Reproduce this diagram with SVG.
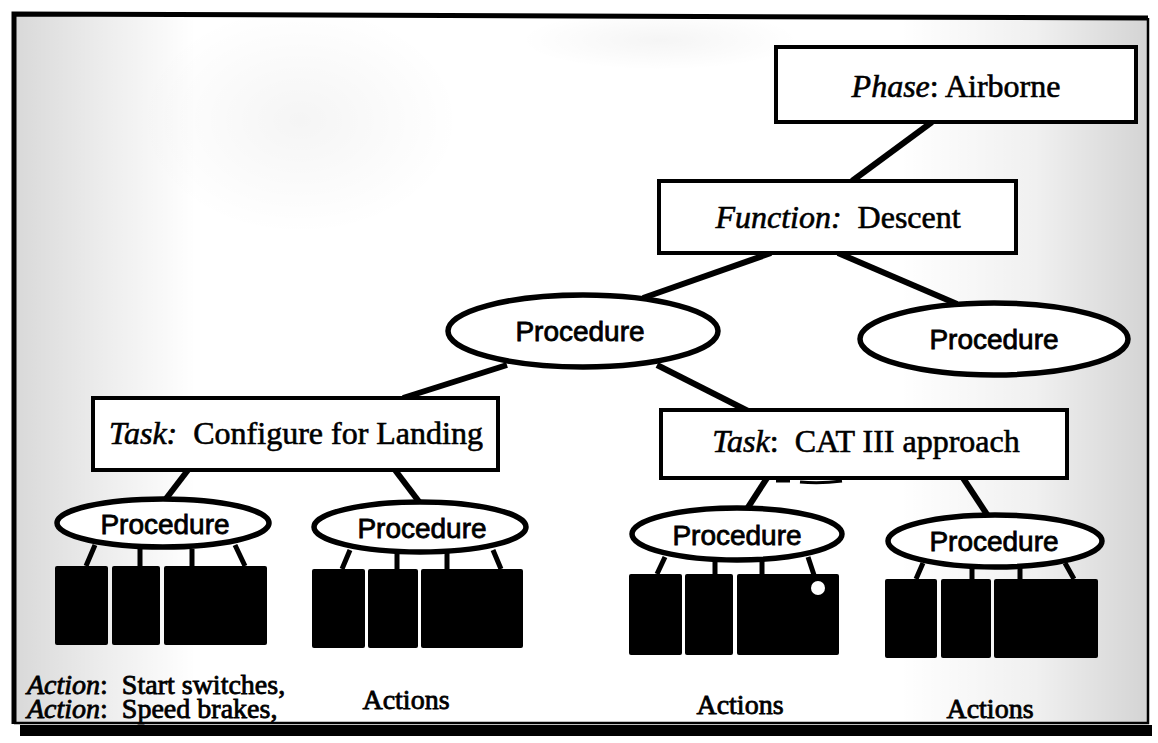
<svg xmlns="http://www.w3.org/2000/svg" width="1158" height="743" viewBox="0 0 1158 743">
  <defs>
    <style>
      .box { fill: #fff; stroke: #000; stroke-width: 4; }
      .oval { fill: #fff; stroke: #000; stroke-width: 5.5; }
      .edge { stroke: #000; stroke-width: 6; stroke-linecap: butt; fill: none; }
      .stub { stroke: #000; stroke-width: 5; stroke-linecap: butt; fill: none; }
      .act { fill: #000; }
      .serif { font-family: "Liberation Serif", "Times New Roman", serif; font-size: 32px; fill: #000; stroke: #000; stroke-width: 0.6; }
      .small { font-size: 28px; stroke-width: 0.8; }
      .sans { font-family: "Liberation Sans", Arial, sans-serif; font-size: 28px; fill: #000; stroke: #000; stroke-width: 0.8; text-anchor: middle; }
      .it { font-style: italic; }
    </style>
    <!-- light grey halftone tint at the edges of the sheet -->
    <linearGradient id="tintL" x1="0" y1="0" x2="1" y2="0">
      <stop offset="0" stop-color="#000" stop-opacity="0.15"/>
      <stop offset="0.5" stop-color="#000" stop-opacity="0.07"/>
      <stop offset="1" stop-color="#000" stop-opacity="0"/>
    </linearGradient>
    <linearGradient id="tintR" x1="0" y1="0" x2="1" y2="0">
      <stop offset="0" stop-color="#000" stop-opacity="0"/>
      <stop offset="0.55" stop-color="#000" stop-opacity="0.06"/>
      <stop offset="1" stop-color="#000" stop-opacity="0.17"/>
    </linearGradient>
    <radialGradient id="tintSoft">
      <stop offset="0" stop-color="#000" stop-opacity="0.04"/>
      <stop offset="1" stop-color="#000" stop-opacity="0"/>
    </radialGradient>
  </defs>

  <!-- paper and frame -->
  <rect x="0" y="0" width="1158" height="743" fill="#fff"/>
  <g id="tint">
    <rect x="16" y="16" width="180" height="706" fill="url(#tintL)"/>
    <rect x="900" y="16" width="248" height="706" fill="url(#tintR)"/>
    <ellipse cx="300" cy="120" rx="160" ry="115" fill="url(#tintSoft)"/>
    <ellipse cx="660" cy="40" rx="140" ry="30" fill="url(#tintSoft)"/>
  </g>
  <rect x="20" y="725" width="1132" height="11" fill="#000"/>
  <path d="M14 724 V14 L1148 18" fill="none" stroke="#000" stroke-width="5"/>
  <path d="M1148 18 V723 H14" fill="none" stroke="#000" stroke-width="2.5"/>

  <!-- connectors -->
  <g id="connectors">
    <line class="edge" x1="932" y1="122" x2="852" y2="181"/>
    <line class="edge" x1="771" y1="253" x2="643" y2="298"/>
    <line class="edge" x1="838" y1="253" x2="957" y2="304"/>
    <line class="edge" x1="507" y1="365" x2="403" y2="398"/>
    <line class="edge" x1="657" y1="365" x2="748" y2="411"/>
    <line class="edge" x1="188" y1="470" x2="165" y2="500"/>
    <line class="edge" x1="395" y1="470" x2="420" y2="503"/>
    <line class="edge" x1="767" y1="478" x2="747" y2="509"/>
    <line class="edge" x1="963" y1="478" x2="988" y2="516"/>
    <!-- procedure-to-action stubs -->
    <path class="stub" d="M95 545 L86 566 M140 549 V566 M192 549 V566 M235 545 L245 566"/>
    <path class="stub" d="M350 550 L342 569 M397 552 V569 M447 552 V569 M493 550 L501 569"/>
    <path class="stub" d="M665 557 L657 574 M715 560 V574 M762 560 V574 M808 557 L817 584"/>
    <path class="stub" d="M923 563 L916 579 M972 566 V579 M1020 566 V579 M1065 563 L1074 579"/>
  </g>

  <g id="phase">
    <rect class="box" x="776" y="47" width="360" height="75"/>
    <text class="serif" x="956" y="97" text-anchor="middle"><tspan class="it">Phase</tspan>: Airborne</text>
  </g>

  <g id="function">
    <rect class="box" x="659" y="181" width="357" height="72"/>
    <text class="serif" x="838" y="228" text-anchor="middle" xml:space="preserve"><tspan class="it">Function:</tspan>  Descent</text>
  </g>

  <g id="procedure-main">
    <ellipse class="oval" cx="583" cy="331" rx="135" ry="36"/>
    <text class="sans" x="580" y="341">Procedure</text>
  </g>

  <g id="procedure-right">
    <ellipse class="oval" cx="994" cy="339" rx="134" ry="36"/>
    <text class="sans" x="994" y="349">Procedure</text>
  </g>

  <g id="task-landing">
    <rect class="box" x="93" y="398" width="405" height="72"/>
    <text class="serif" x="296" y="444" text-anchor="middle" xml:space="preserve"><tspan class="it">Task:</tspan>  Configure for Landing</text>
  </g>

  <g id="task-cat3">
    <rect class="box" x="661" y="410" width="406" height="68"/>
    <path d="M776 481 H790 M800 482 Q820 484 842 481" fill="none" stroke="#000" stroke-width="3"/>
    <text class="serif" x="866" y="452" text-anchor="middle" xml:space="preserve"><tspan class="it">Task</tspan>:  CAT III approach</text>
  </g>

  <g id="procedure-1">
    <ellipse class="oval" cx="163" cy="523" rx="106" ry="24"/>
    <text class="sans" x="165" y="534">Procedure</text>
  </g>
  <g id="actions-1">
    <rect class="act" x="55" y="566" width="53" height="79" rx="2"/>
    <rect class="act" x="112" y="566" width="48" height="79" rx="2"/>
    <rect class="act" x="164" y="566" width="103" height="79" rx="2"/>
  </g>

  <g id="procedure-2">
    <ellipse class="oval" cx="420" cy="527" rx="106" ry="25"/>
    <text class="sans" x="422" y="538">Procedure</text>
  </g>
  <g id="actions-2">
    <rect class="act" x="312" y="569" width="53" height="79" rx="2"/>
    <rect class="act" x="368" y="569" width="50" height="79" rx="2"/>
    <rect class="act" x="421" y="569" width="102" height="79" rx="2"/>
  </g>

  <g id="procedure-3">
    <ellipse class="oval" cx="737" cy="534" rx="105" ry="26"/>
    <text class="sans" x="737" y="545">Procedure</text>
  </g>
  <g id="actions-3">
    <rect class="act" x="629" y="574" width="53" height="81" rx="2"/>
    <rect class="act" x="685" y="574" width="48" height="81" rx="2"/>
    <rect class="act" x="737" y="574" width="102" height="81" rx="2"/>
    <circle cx="818" cy="588" r="7" fill="#fff"/>
  </g>

  <g id="procedure-4">
    <ellipse class="oval" cx="995" cy="541" rx="107" ry="26"/>
    <text class="sans" x="994" y="551">Procedure</text>
  </g>
  <g id="actions-4">
    <rect class="act" x="885" y="579" width="52" height="79" rx="2"/>
    <rect class="act" x="941" y="579" width="50" height="79" rx="2"/>
    <rect class="act" x="994" y="579" width="104" height="79" rx="2"/>
  </g>

  <g id="labels">
    <text class="serif small" x="27" y="694" xml:space="preserve"><tspan class="it">Action</tspan>:  Start switches,</text>
    <text class="serif small" x="27" y="718" xml:space="preserve"><tspan class="it">Action</tspan>:  Speed brakes,</text>
    <text class="serif small" x="406" y="709" text-anchor="middle">Actions</text>
    <text class="serif small" x="740" y="714" text-anchor="middle">Actions</text>
    <text class="serif small" x="990" y="718" text-anchor="middle">Actions</text>
  </g>
</svg>
